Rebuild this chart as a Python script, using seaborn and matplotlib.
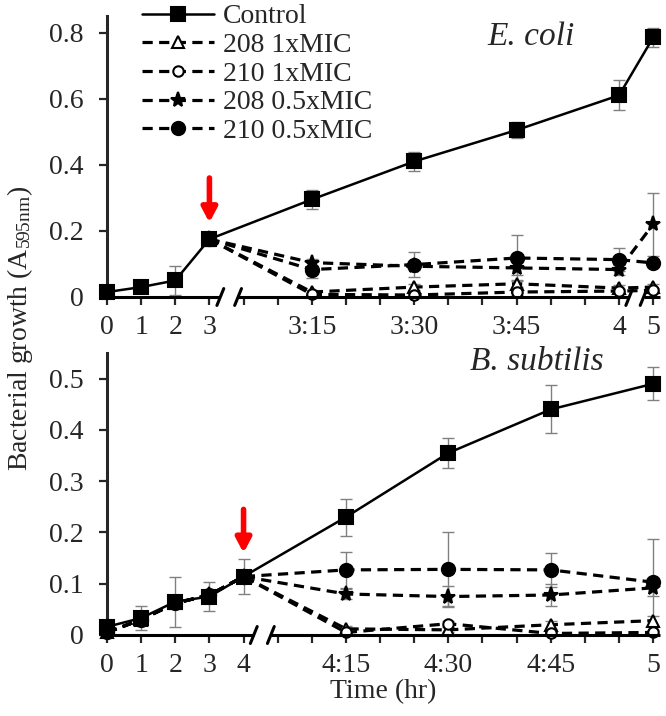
import numpy as np
import pandas as pd
import seaborn as sns
import matplotlib
matplotlib.use("Agg")
import matplotlib.pyplot as plt

#%% data
series_names = ["Control", "208 1xMIC", "210 1xMIC", "208 0.5xMIC", "210 0.5xMIC"]

# E. coli: x slots are 5 minute steps after 3 hr (with breaks)
ecoli_slots = ["0", "1", "2", "3", "3:05", "3:10", "3:15", "3:20", "3:25", "3:30",
               "3:35", "3:40", "3:45", "3:50", "3:55", "4", "5"]
ecoli_ticklabels = ["0", "1", "2", "3", "3:15", "3:30", "3:45", "4", "5"]
ecoli_ctrl_time = ["0", "1", "2", "3", "3:15", "3:30", "3:45", "4", "5"]
ecoli_trt_time = ["3", "3:15", "3:30", "3:45", "4", "5"]

ecoli_control = [0.015, 0.03, 0.05, 0.175, 0.295, 0.41, 0.505, 0.61, 0.785]
ecoli_control_err = [0.004, 0.005, 0.045, 0.02, 0.03, 0.03, 0.025, 0.045, 0.03]
ecoli_208_1x = [0.175, 0.015, 0.03, 0.04, 0.027, 0.03]
ecoli_208_1x_err = [0, 0.005, 0.008, 0.01, 0.008, 0.01]
ecoli_210_1x = [0.175, 0.008, 0.006, 0.015, 0.018, 0.02]
ecoli_210_1x_err = [0, 0.004, 0.004, 0.008, 0.006, 0.008]
ecoli_208_05x = [0.175, 0.104, 0.093, 0.088, 0.083, 0.22]
ecoli_208_05x_err = [0, 0.012, 0.01, 0.02, 0.015, 0.095]
ecoli_210_05x = [0.175, 0.083, 0.098, 0.118, 0.113, 0.103]
ecoli_210_05x_err = [0, 0.025, 0.037, 0.07, 0.035, 0.012]

# B. subtilis: x slots are 5 minute steps after 4 hr
bsub_slots = ["0", "1", "2", "3", "4", "4:05", "4:10", "4:15", "4:20", "4:25", "4:30",
              "4:35", "4:40", "4:45", "4:50", "4:55", "5"]
bsub_ticklabels = ["0", "1", "2", "3", "4", "4:15", "4:30", "4:45", "5"]
bsub_time = ["0", "1", "2", "3", "4", "4:15", "4:30", "4:45", "5"]

bsub_control = [0.016, 0.033, 0.065, 0.075, 0.114, 0.23, 0.355, 0.44, 0.49]
bsub_control_err = [0.005, 0.024, 0.049, 0.029, 0.034, 0.036, 0.029, 0.047, 0.032]
bsub_208_1x = [0.005, 0.03, 0.062, 0.078, 0.114, 0.012, 0.01, 0.02, 0.028]
bsub_208_1x_err = [0, 0, 0, 0, 0, 0.005, 0.005, 0.008, 0.01]
bsub_210_1x = [0.005, 0.03, 0.062, 0.078, 0.114, 0.005, 0.022, 0.003, 0.005]
bsub_210_1x_err = [0, 0, 0, 0, 0, 0.004, 0.006, 0.003, 0.004]
bsub_208_05x = [0.005, 0.03, 0.062, 0.078, 0.114, 0.08, 0.075, 0.078, 0.092]
bsub_208_05x_err = [0, 0, 0, 0, 0, 0.01, 0.02, 0.021, 0.015]
bsub_210_05x = [0.005, 0.03, 0.062, 0.078, 0.114, 0.127, 0.128, 0.127, 0.103]
bsub_210_05x_err = [0, 0, 0, 0, 0, 0.035, 0.072, 0.033, 0.085]

#%% style
sns.set_style("ticks")
plt.rcParams["font.family"] = ["Liberation Serif", "DejaVu Serif"]
plt.rcParams["mathtext.fontset"] = "custom"
plt.rcParams["mathtext.rm"] = "Liberation Serif"
plt.rcParams["mathtext.it"] = "Liberation Serif:italic"
FS = 20

dash = (0, (3.2, 2.0))
styles = {
    "Control": dict(marker="s", ms=10.5, mfc="black", ls="-", lw=1.8, z=5),
    "208 1xMIC": dict(marker="^", ms=8, mfc="white", ls=dash, lw=2.3, z=3),
    "210 1xMIC": dict(marker="o", ms=7.5, mfc="white", ls=dash, lw=2.3, z=3),
    "208 0.5xMIC": dict(marker="*", ms=11, mfc="black", ls=dash, lw=2.3, z=3),
    "210 0.5xMIC": dict(marker="o", ms=9.5, mfc="black", ls=dash, lw=2.3, z=4),
}


def draw_series(ax, slots, times, vals, errs, name):
    pos = [slots.index(t) for t in times]
    df = pd.DataFrame({"x": pos, "y": vals})
    st = styles[name]
    ax.errorbar(pos, vals, yerr=errs, fmt="none", ecolor="#808080", elinewidth=1.0,
                capsize=4.5, capthick=1.0, zorder=1)
    sns.lineplot(data=df, x="x", y="y", ax=ax, color="black", label=name,
                 marker=st["marker"], markersize=st["ms"], markerfacecolor=st["mfc"],
                 markeredgecolor="black", markeredgewidth=1.5, linestyle=st["ls"],
                 linewidth=st["lw"], zorder=st["z"], clip_on=False)


def style_axis(ax, slots, ticklabels, ymax, yticks, breaks):
    ax.set_xlim(0, 16.2)
    ax.set_ylim(0, ymax)
    ax.set_xticks(range(len(slots)))
    ax.set_xticklabels([s if s in ticklabels else "" for s in slots])
    ax.set_yticks(yticks)
    ax.set_yticklabels(["0" if v == 0 else f"{v:g}" for v in yticks])
    ax.tick_params(axis="both", labelsize=FS, width=1.6, length=6, direction="out")
    ax.tick_params(axis="x", pad=7)
    ax.tick_params(axis="y", pad=11)
    ax.set_xlabel("")
    ax.set_ylabel("")
    for s in ["top", "right", "bottom"]:
        ax.spines[s].set_visible(False)
    ax.spines["left"].set_linewidth(2.2)
    # x axis line drawn in pieces with // break marks
    tr = ax.get_xaxis_transform()
    edges = [0] + [b for pair in breaks for b in pair] + [16.2]
    for a, b in zip(edges[::2], edges[1::2]):
        ax.plot([a, b], [0, 0], color="black", lw=2.2, transform=tr, clip_on=False,
                solid_capstyle="butt", zorder=6)
    for pair in breaks:
        for b in pair:
            ax.plot([b - 0.1, b + 0.1], [-0.03, 0.03], color="black", lw=2.2,
                    transform=tr, clip_on=False, zorder=6)
    ax.get_legend().remove()


fig = plt.figure(figsize=(6.66, 7.16), dpi=100)
ax1 = fig.add_axes([107 / 666, 1 - 297 / 716, 553 / 666, 281 / 716])
ax2 = fig.add_axes([107 / 666, 1 - 635 / 716, 553 / 666, 282 / 716])

arrow_kw = dict(arrowstyle="-|>,head_width=0.45,head_length=0.85", color="red", lw=4,
                shrinkA=0, shrinkB=0)

#%% E. coli
draw_series(ax1, ecoli_slots, ecoli_trt_time, ecoli_208_1x, ecoli_208_1x_err, "208 1xMIC")
draw_series(ax1, ecoli_slots, ecoli_trt_time, ecoli_210_1x, ecoli_210_1x_err, "210 1xMIC")
draw_series(ax1, ecoli_slots, ecoli_trt_time, ecoli_208_05x, ecoli_208_05x_err, "208 0.5xMIC")
draw_series(ax1, ecoli_slots, ecoli_trt_time, ecoli_210_05x, ecoli_210_05x_err, "210 0.5xMIC")
draw_series(ax1, ecoli_slots, ecoli_ctrl_time, ecoli_control, ecoli_control_err, "Control")
handles, labels = ax1.get_legend_handles_labels()
style_axis(ax1, ecoli_slots, ecoli_ticklabels, 0.85, [0, 0.2, 0.4, 0.6, 0.8],
           [(3.32, 3.84), (15.3, 15.72)])
ax1.annotate("", xy=(ecoli_slots.index("3"), 0.225), xytext=(ecoli_slots.index("3"), 0.36),
             arrowprops=arrow_kw)
ax1.text(0.767, 0.925, "E. coli", transform=ax1.transAxes, fontsize=24,
         style="italic", ha="center", va="center")

#%% B. subtilis
draw_series(ax2, bsub_slots, bsub_time, bsub_208_1x, bsub_208_1x_err, "208 1xMIC")
draw_series(ax2, bsub_slots, bsub_time, bsub_210_1x, bsub_210_1x_err, "210 1xMIC")
draw_series(ax2, bsub_slots, bsub_time, bsub_208_05x, bsub_208_05x_err, "208 0.5xMIC")
draw_series(ax2, bsub_slots, bsub_time, bsub_210_05x, bsub_210_05x_err, "210 0.5xMIC")
draw_series(ax2, bsub_slots, bsub_time, bsub_control, bsub_control_err, "Control")
style_axis(ax2, bsub_slots, bsub_ticklabels, 0.55, [0, 0.1, 0.2, 0.3, 0.4, 0.5],
           [(4.3, 4.8)])
ax2.annotate("", xy=(bsub_slots.index("4"), 0.16), xytext=(bsub_slots.index("4"), 0.245),
             arrowprops=arrow_kw)
ax2.text(0.778, 0.968, "B. subtilis", transform=ax2.transAxes, fontsize=24,
         style="italic", ha="center", va="center")
ax2.set_xlabel("Time (hr)", fontsize=FS, labelpad=1)

# legend: Control first, as in the original
order = [labels.index(n) for n in series_names]
fig.legend([handles[i] for i in order], [labels[i] for i in order], loc="upper left",
           bbox_to_anchor=(142 / 666, 1 - 4 / 716), frameon=False, fontsize=FS,
           handlelength=2.6, handletextpad=0.3, labelspacing=0.115, borderpad=0,
           borderaxespad=0)

fig.text(20 / 666, 1 - 328 / 716, r"Bacterial growth (A$_{\mathregular{595nm}}$)",
         rotation=90, fontsize=FS, ha="center", va="center")

fig.savefig("out.png", dpi=100)
